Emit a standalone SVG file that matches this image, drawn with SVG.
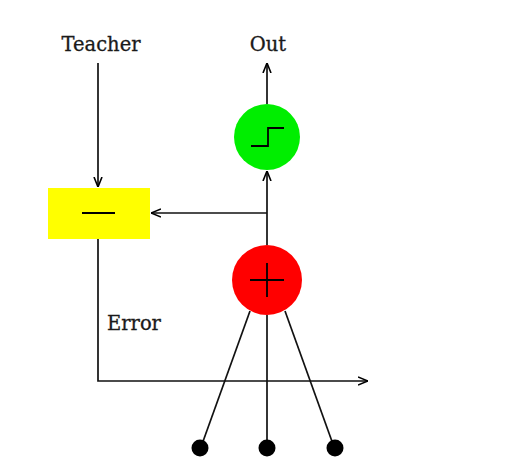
<svg xmlns="http://www.w3.org/2000/svg" width="514" height="476" viewBox="0 0 514 476">
<defs>
<marker id="ah" viewBox="0 0 10 10" refX="10" refY="5" markerWidth="10" markerHeight="10" markerUnits="userSpaceOnUse" orient="auto">
<path d="M0,1 L10,5 L0,9" fill="none" stroke="#000" stroke-width="1.6"/>
</marker>
<style>
.t{font-family:"DejaVu Serif","Liberation Serif",serif;font-size:19.5px;fill:#1a1a1a;stroke:#1a1a1a;stroke-width:0.3}
.c{stroke:#111;stroke-width:1.7;fill:none}
.g{stroke:#000;stroke-width:1.8;fill:none}
</style>
</defs>
<rect width="514" height="476" fill="#fff"/>
<g id="teacher"><text class="t" x="101" y="51" text-anchor="middle">Teacher</text></g>
<g id="out"><text class="t" x="268" y="51" text-anchor="middle">Out</text></g>
<g id="error"><text class="t" x="107" y="330">Error</text></g>
<g id="connectors">
<line class="c" x1="98" y1="63" x2="98" y2="187" marker-end="url(#ah)"/>
<line class="c" x1="267" y1="104" x2="267" y2="63" marker-end="url(#ah)"/>
<line class="c" x1="267" y1="245" x2="267" y2="171" marker-end="url(#ah)"/>
<line class="c" x1="267" y1="213" x2="151" y2="213" marker-end="url(#ah)"/>
<polyline class="c" points="98,239 98,381 368,381" marker-end="url(#ah)"/>
<line class="c" x1="250" y1="311" x2="201" y2="447"/>
<line class="c" x1="267" y1="315" x2="267" y2="447"/>
<line class="c" x1="285" y1="311" x2="334" y2="447"/>
</g>
<g id="subtract">
<rect x="48" y="188" width="102" height="51" fill="#ffff00"/>
<line class="g" x1="82" y1="213" x2="115" y2="213"/>
</g>
<g id="step">
<circle cx="267" cy="137" r="33" fill="#00ee00"/>
<polyline class="g" points="251,146 268,146 268,128 284,128"/>
</g>
<g id="sum">
<circle cx="267" cy="280" r="35" fill="#ff0000"/>
<line class="g" x1="250" y1="280" x2="284" y2="280"/>
<line class="g" x1="267" y1="263" x2="267" y2="297"/>
</g>
<g id="in1"><circle cx="200" cy="448" r="8.5" fill="#000"/></g>
<g id="in2"><circle cx="267" cy="448" r="8.5" fill="#000"/></g>
<g id="in3"><circle cx="335" cy="448" r="8.5" fill="#000"/></g>
</svg>
